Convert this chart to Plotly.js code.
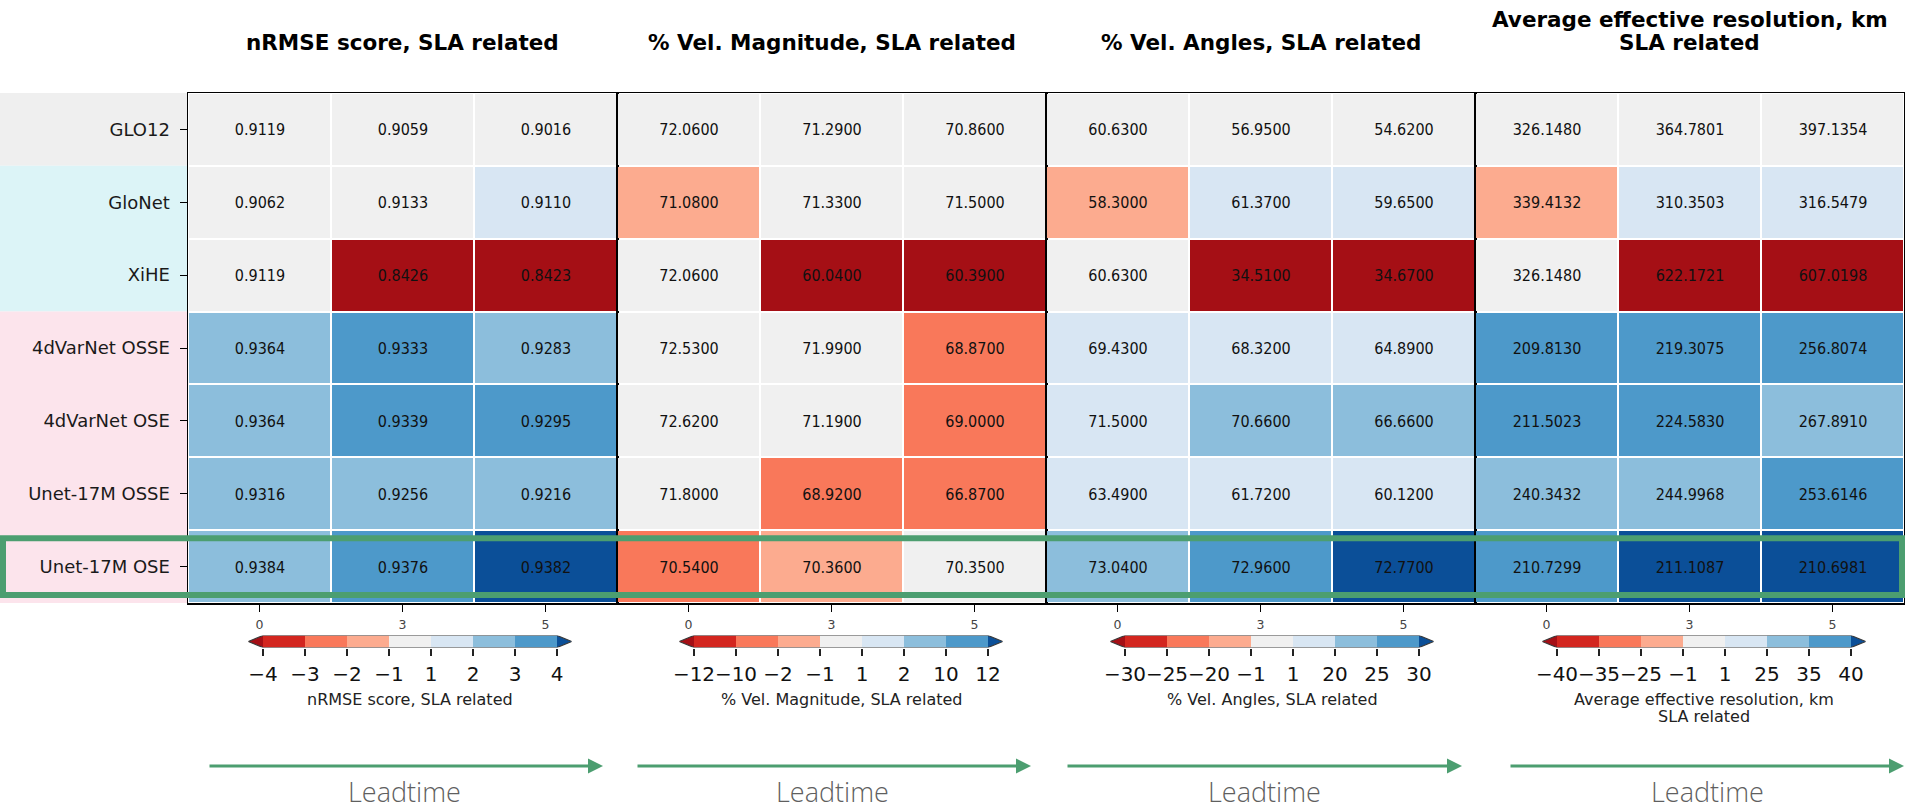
<!DOCTYPE html>
<html>
<head>
<meta charset="utf-8">
<script src="https://cdn.plot.ly/plotly-3.0.1.min.js"></script>
<style>
  html, body { margin: 0; padding: 0; background: #ffffff; }
  #chart { width: 1905px; height: 809px; }
</style>
</head>
<body>
<div id="chart"></div>
<script>
// ---- data -------------------------------------------------------------
const models = ["GLO12", "GloNet", "XiHE", "4dVarNet OSSE", "4dVarNet OSE", "Unet-17M OSSE", "Unet-17M OSE"];
const modelGroups = ["reference", "forecast", "forecast", "reconstruction", "reconstruction", "reconstruction", "reconstruction"];
const highlightedModel = "Unet-17M OSE";
const leadtimes = ["0", "3", "5"];

const nrmse = [
  [0.9119, 0.9059, 0.9016],
  [0.9062, 0.9133, 0.9110],
  [0.9119, 0.8426, 0.8423],
  [0.9364, 0.9333, 0.9283],
  [0.9364, 0.9339, 0.9295],
  [0.9316, 0.9256, 0.9216],
  [0.9384, 0.9376, 0.9382]
];
const velMagnitude = [
  [72.06, 71.29, 70.86],
  [71.08, 71.33, 71.50],
  [72.06, 60.04, 60.39],
  [72.53, 71.99, 68.87],
  [72.62, 71.19, 69.00],
  [71.80, 68.92, 66.87],
  [70.54, 70.36, 70.35]
];
const velAngles = [
  [60.63, 56.95, 54.62],
  [58.30, 61.37, 59.65],
  [60.63, 34.51, 34.67],
  [69.43, 68.32, 64.89],
  [71.50, 70.66, 66.66],
  [63.49, 61.72, 60.12],
  [73.04, 72.96, 72.77]
];
const effResolution = [
  [326.1480, 364.7801, 397.1354],
  [339.4132, 310.3503, 316.5479],
  [326.1480, 622.1721, 607.0198],
  [209.8130, 219.3075, 256.8074],
  [211.5023, 224.5830, 267.8910],
  [240.3432, 244.9968, 253.6146],
  [210.7299, 211.1087, 210.6981]
];

// class boundaries (percent change relative to GLO12) for each score
const nrmseBounds = [-4, -3, -2, -1, 1, 2, 3, 4];
const velMagnitudeBounds = [-12, -10, -2, -1, 1, 2, 10, 12];
const velAnglesBounds = [-30, -25, -20, -1, 1, 20, 25, 30];
const effResolutionBounds = [-40, -35, -25, -1, 1, 25, 35, 40];

const metricTitles = [
  ["nRMSE score, SLA related"],
  ["% Vel. Magnitude, SLA related"],
  ["% Vel. Angles, SLA related"],
  ["Average effective resolution, km", "SLA related"]
];
const metricValues = [nrmse, velMagnitude, velAngles, effResolution];
const metricBounds = [nrmseBounds, velMagnitudeBounds, velAnglesBounds, effResolutionBounds];
const higherIsBetter = [true, true, true, false];

// ---- style ------------------------------------------------------------
const W = 1905, H = 809;
// under, 7 classes, over
const palette = ["#a50f15", "#d3261f", "#f9785a", "#fcab8f", "#f0f0f0",
                 "#d8e6f3", "#8cbedc", "#4d99ca", "#0b4f98"];
const groupColors = { reference: "#efefef", forecast: "#dcf4f7", reconstruction: "#fce4ec" };
const green = "#4c9e70";
const baseFont = "DejaVu Sans, Liberation Sans, sans-serif";
const cellFont = "DejaVu Sans Condensed, DejaVu Sans, sans-serif";

const panelLeft = [188, 617, 1046, 1475];
const panelWidth = 429;
const plotTop = 93, plotBottom = 603;
const cbarCenter = [410, 841, 1272, 1704];
const cbarInner = 294, cbarExt = 0.05;
const cbarTop = 635.5, cbarBottom = 647.5;
const arrowSpans = [[208, 603], [636, 1031], [1066, 1462], [1509, 1905]];
const leadtimeCenters = [404, 832, 1264, 1707];

const px = p => p / W;
const py = p => 1 - p / H;

// discrete colour scale: class k occupies [k-0.5, k+0.5]
const colorscale = [];
palette.forEach((c, k) => {
  colorscale.push([k / palette.length, c]);
  colorscale.push([(k + 1) / palette.length, c]);
});

function classOf(pct, bounds) {
  let k = 0;
  bounds.forEach(b => { if (pct >= b) k++; });
  return k;
}

const traces = [];
const layout = {
  width: W, height: H,
  margin: { l: 0, r: 0, t: 0, b: 0 },
  paper_bgcolor: "#ffffff",
  plot_bgcolor: "#ffffff",
  showlegend: false,
  font: { family: baseFont, color: "#111111" },
  shapes: [],
  annotations: []
};

metricValues.forEach((vals, m) => {
  const ax = m === 0 ? "" : String(m + 1);
  const ref = vals[0];
  const z = vals.map(row => row.map((v, j) => {
    const pct = (v - ref[j]) / ref[j] * 100 * (higherIsBetter[m] ? 1 : -1);
    return classOf(pct, metricBounds[m]);
  }));
  const text = vals.map(row => row.map(v => v.toFixed(4)));
  traces.push({
    type: "heatmap",
    x: leadtimes, y: models, z: z, text: text,
    texttemplate: "%{text}",
    textfont: { family: cellFont, size: 16, color: "#111111" },
    colorscale: colorscale, zmin: -0.5, zmax: palette.length - 0.5,
    showscale: false, xgap: 2, ygap: 2, hoverinfo: "skip",
    xaxis: "x" + ax, yaxis: "y" + ax
  });

  layout["xaxis" + ax] = {
    domain: [px(panelLeft[m]), px(panelLeft[m] + panelWidth)],
    anchor: "y" + ax, type: "category", categoryarray: leadtimes,
    showline: true, mirror: true, linecolor: "#000000", linewidth: 1.5,
    ticks: "outside", ticklen: 7, tickcolor: "#000000", tickwidth: 1,
    tickfont: { size: 12.5, color: "#444444" }, ticklabelstandoff: 2,
    showgrid: false, zeroline: false, fixedrange: true
  };
  layout["yaxis" + ax] = {
    domain: [py(plotBottom), py(plotTop)],
    anchor: "x" + ax, type: "category", categoryarray: models,
    autorange: "reversed",
    showline: true, mirror: true, linecolor: "#000000", linewidth: 1.5,
    ticks: m === 0 ? "outside" : "", ticklen: 7, tickcolor: "#000000",
    showticklabels: m === 0, ticklabelstandoff: 6,
    tickfont: { size: 18, color: "#1a1a1a" },
    showgrid: false, zeroline: false, fixedrange: true
  };
  if (m > 0) layout["yaxis" + ax].matches = "y";

  // panel title
  const lines = metricTitles[m];
  lines.forEach((line, i) => {
    layout.annotations.push({
      xref: "paper", yref: "paper",
      x: px(panelLeft[m] + panelWidth / 2), y: py(43 - (lines.length - 1 - i) * 24),
      xanchor: "center", yanchor: "middle", showarrow: false,
      text: line, font: { size: 21.5, weight: "bold", color: "#000000" }
    });
  });

  // colour bar on its own small axes
  const cax = String(m + 5);
  const nInner = palette.length - 2;
  const ext = nInner * cbarExt;
  const half = cbarInner * (1 + 2 * cbarExt) / 2;
  layout["xaxis" + cax] = {
    domain: [px(cbarCenter[m] - half), px(cbarCenter[m] + half)],
    anchor: "y" + cax, range: [-ext, nInner + ext],
    tickmode: "array",
    tickvals: metricBounds[m].map((b, i) => i),
    ticktext: metricBounds[m].map(b => (b < 0 ? "\u2212" + Math.abs(b) : String(b))),
    tickangle: 0,
    ticks: "outside", ticklen: 7, tickcolor: "#222222", tickwidth: 1.2,
    tickfont: { size: 20, color: "#111111" }, ticklabelstandoff: 1,
    showgrid: false, zeroline: false, showline: false, fixedrange: true
  };
  layout["yaxis" + cax] = {
    domain: [py(cbarBottom), py(cbarTop)],
    anchor: "x" + cax, range: [0, 1],
    showticklabels: false, ticks: "", showgrid: false, zeroline: false,
    showline: false, fixedrange: true
  };
  const innerX = [], innerZ = [];
  for (let k = 1; k <= nInner; k++) { innerX.push(k - 0.5); innerZ.push(k); }
  traces.push({
    type: "heatmap", x: innerX, y: [0.5], z: [innerZ],
    colorscale: colorscale, zmin: -0.5, zmax: palette.length - 0.5,
    showscale: false, hoverinfo: "skip",
    xaxis: "x" + cax, yaxis: "y" + cax
  });
  traces.push({
    type: "scatter", mode: "lines", x: [0, -ext, 0, 0], y: [0, 0.5, 1, 0],
    fill: "toself", fillcolor: palette[0], line: { width: 0 },
    cliponaxis: false, hoverinfo: "skip", xaxis: "x" + cax, yaxis: "y" + cax
  });
  traces.push({
    type: "scatter", mode: "lines", x: [nInner, nInner + ext, nInner, nInner], y: [0, 0.5, 1, 0],
    fill: "toself", fillcolor: palette[palette.length - 1], line: { width: 0 },
    cliponaxis: false, hoverinfo: "skip", xaxis: "x" + cax, yaxis: "y" + cax
  });
  traces.push({
    type: "scatter", mode: "lines",
    x: [0, nInner, nInner + ext, nInner, 0, -ext, 0],
    y: [1, 1, 0.5, 0, 0, 0.5, 1],
    line: { color: "#3a3a3a", width: 1.2 },
    cliponaxis: false, hoverinfo: "skip", xaxis: "x" + cax, yaxis: "y" + cax
  });

  // colour bar label
  lines.forEach((line, i) => {
    layout.annotations.push({
      xref: "paper", yref: "paper",
      x: px(cbarCenter[m]), y: py(699 + i * 17),
      xanchor: "center", yanchor: "middle", showarrow: false,
      text: line, font: { size: 16, color: "#222222" }
    });
  });

  // leadtime arrow and caption
  const [a0, a1] = arrowSpans[m];
  layout.annotations.push({
    xref: "paper", yref: "paper", x: px(a1), y: py(766),
    ax: a0 - a1, ay: 0, axref: "pixel", ayref: "pixel",
    showarrow: true, arrowhead: 2, arrowsize: 1, arrowwidth: 3,
    arrowcolor: green, standoff: 0, text: ""
  });
  layout.annotations.push({
    xref: "paper", yref: "paper",
    x: px(leadtimeCenters[m]), y: py(791),
    xanchor: "center", yanchor: "middle", showarrow: false,
    text: "Leadtime",
    font: { family: "Open Sans, Lato, sans-serif", weight: 300, size: 27, color: "#5f5f5f" }
  });
});

// group bands behind the row labels
let start = 0;
for (let i = 1; i <= modelGroups.length; i++) {
  if (i === modelGroups.length || modelGroups[i] !== modelGroups[start]) {
    layout.shapes.push({
      type: "rect", layer: "below",
      xref: "paper", x0: 0, x1: px(panelLeft[0]),
      yref: "y", y0: start - 0.5, y1: i - 0.5,
      fillcolor: groupColors[modelGroups[start]], line: { width: 0 }
    });
    start = i;
  }
}

// highlight frame around the selected model's row
const hi = models.indexOf(highlightedModel);
layout.shapes.push({
  type: "rect", layer: "above",
  xref: "paper", x0: px(3), x1: px(1902),
  yref: "y", y0: hi - 0.39, y1: hi + 0.39,
  line: { color: green, width: 6 }, fillcolor: "rgba(0,0,0,0)"
});

Plotly.newPlot("chart", traces, layout, { displayModeBar: false, staticPlot: true });
</script>
</body>
</html>
